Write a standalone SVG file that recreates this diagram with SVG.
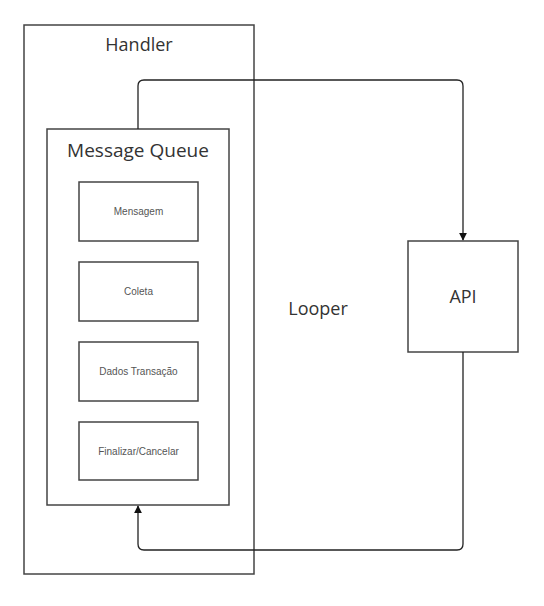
<svg xmlns="http://www.w3.org/2000/svg" width="544" height="606" viewBox="0 0 544 606">
<defs>
<style>
.box{fill:#fff;stroke:#444;stroke-width:1.5}
.con{fill:none;stroke:#222;stroke-width:1.3}
.big{font-family:"Open Sans","Noto Sans",sans-serif;font-size:18px;fill:#333;text-anchor:middle}
.small{font-family:"Liberation Sans",Arial,sans-serif;font-size:10px;fill:#555;text-anchor:middle}
</style>
<marker id="arr" viewBox="0 0 10 10" refX="9" refY="5" markerWidth="8" markerHeight="8" markerUnits="userSpaceOnUse" orient="auto">
<path d="M0,0 L10,5 L0,10 z" fill="#111"/>
</marker>
</defs>
<rect width="544" height="606" fill="#fff"/>
<g id="handler">
<rect class="box" x="24" y="25" width="230" height="549" fill="none"/>
<text class="big" x="139" y="51">Handler</text>
</g>
<g id="looper">
<text class="big" x="318" y="315">Looper</text>
</g>
<g id="message-queue">
<rect class="box" x="47" y="129" width="182" height="376"/>
<text class="big" x="138" y="157" style="font-size:19px">Message Queue</text>
</g>
<g id="mensagem">
<rect class="box" x="79" y="182" width="119" height="59"/>
<text class="small" x="138.5" y="215">Mensagem</text>
</g>
<g id="coleta">
<rect class="box" x="79" y="262" width="119" height="59"/>
<text class="small" x="138.5" y="295">Coleta</text>
</g>
<g id="dados">
<rect class="box" x="79" y="342" width="119" height="59"/>
<text class="small" x="138.5" y="375">Dados Transação</text>
</g>
<g id="finalizar">
<rect class="box" x="79" y="422" width="119" height="58"/>
<text class="small" x="138.5" y="455">Finalizar/Cancelar</text>
</g>
<g id="api">
<rect class="box" x="408" y="241" width="110" height="111"/>
<text class="big" x="463" y="303">API</text>
</g>
<g id="connectors">
<path class="con" d="M138,129 V86 Q138,80 144,80 H457 Q463,80 463,86 V240" marker-end="url(#arr)"/>
<path class="con" d="M463,352 V544 Q463,550 457,550 H144 Q138,550 138,544 V506" marker-end="url(#arr)"/>
</g>
</svg>
